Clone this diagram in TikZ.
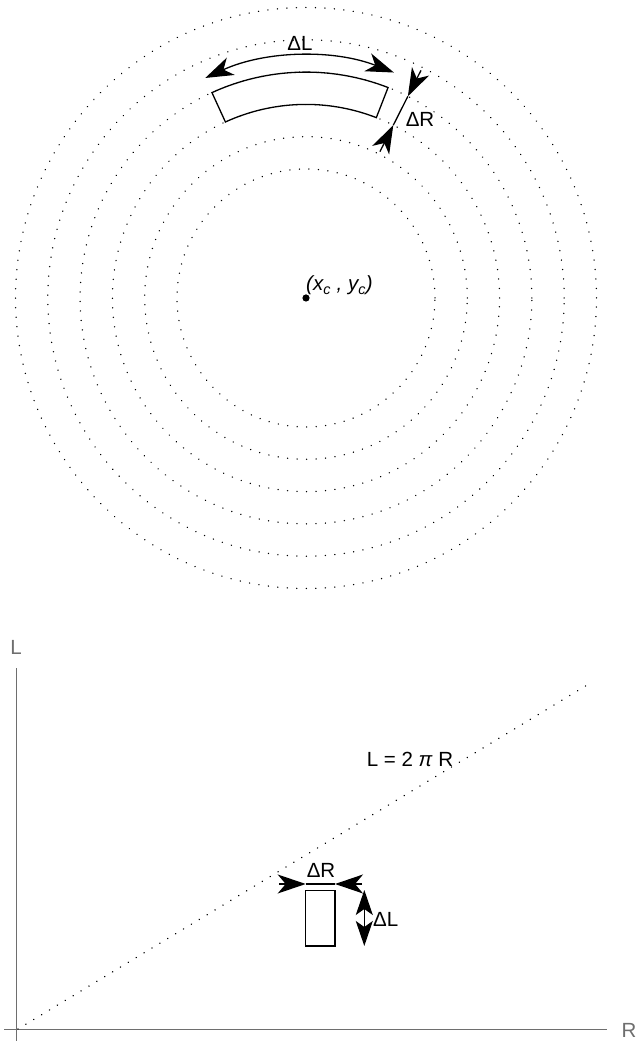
\documentclass[tikz,border=0pt]{standalone}
\usepackage{fontspec}
\setmainfont{Liberation Sans}
\usetikzlibrary{arrows.meta,calc}
\begin{document}
\begin{tikzpicture}[x=1pt,y=1pt,
  lbl/.style={inner sep=0pt,font=\fontsize{20.5}{24}\selectfont},
  axlbl/.style={lbl,text=axgray},
  ring/.style={line width=1.5pt,dash pattern=on 0.01pt off 9.5pt,line cap=round},
  dline/.style={line width=1.6pt,dash pattern=on 0.01pt off 9.2pt,line cap=round},
  thick line/.style={line width=1.3pt},
  head/.style={line width=1.3pt,-{Stealth[length=28pt,width=19pt,inset=8pt]}},
  dhead/.style={line width=1.3pt,{Stealth[length=28pt,width=19pt,inset=8pt]}-{Stealth[length=28pt,width=19pt,inset=8pt]}},
  vhead/.style={line width=1.3pt,{Stealth[length=25pt,width=17pt,inset=6pt]}-{Stealth[length=25pt,width=17pt,inset=6pt]}},
  axis/.style={line width=1pt,draw=axgray}]
\definecolor{axgray}{RGB}{110,110,110}
\useasboundingbox (0,0) rectangle (637,1041);
% ---------- top: concentric circles ----------
\coordinate (c) at (306,743);
\foreach \r in {129,161.3,193.6,225.9,258.2,290.5}
  \draw[ring] (c) circle[radius=\r];
% annular box
\draw[thick line,fill=white] ([shift={(c)}]68.7:193.6) arc[start angle=68.7,end angle=114.6,radius=193.6]
  -- ([shift={(c)}]114.6:225.9) arc[start angle=114.6,end angle=68.7,radius=225.9] -- cycle;
% Delta L arc
\coordinate (La) at ([shift={(c)}]114.6:242);
\draw[dhead] (La) arc[start angle=114.6,end angle=68.7,radius=242];
\node[lbl] (dLtop) at (300,997.7) {ΔL};
% Delta R radial
\coordinate (ro) at ([shift={(c)}]63.2:255);
\coordinate (rout) at ([shift={(c)}]63.2:225.9);
\coordinate (rin) at ([shift={(c)}]63.2:193.6);
\coordinate (ri) at ([shift={(c)}]63.2:164);
\draw[thick line] (rin) -- (rout);
\draw[head] (ro) -- (rout);
\draw[head] (ri) -- (rin);
\node[lbl] (dRtop) at (420,922) {ΔR};
% center
\fill (c) circle[radius=3.6];
\node[lbl,anchor=base west] (cl) at (306,750) {\textit{(x\textsubscript{c} , y\textsubscript{c})}};
% ---------- bottom: plot ----------
\coordinate (O) at (16.7,11);
\coordinate (yt) at (16.7,373);
\coordinate (yb) at (16.7,0);
\coordinate (xl) at (4,11);
\coordinate (xr) at (607,11);
\draw[axis] (yb) -- (yt);
\draw[axis] (xl) -- (xr);
\node[axlbl] (Lax) at (16,394) {L};
\node[axlbl] (Rax) at (629,11) {R};
\coordinate (ds) at (18,12);
\coordinate (de) at (590,357.7);
\draw[dline] (ds) -- (de);
\node[lbl] (eq) at (410,282) {L = 2 \textit{π} R};
% rectangle
\draw[thick line] (305.7,95) rectangle (335,150.3);
\coordinate (hl) at (279,157);
\coordinate (hlt) at (305.7,157);
\coordinate (hrt) at (335,157);
\coordinate (hr) at (362,157);
\draw[thick line] (hlt) -- (hrt);
\draw[head] (hl) -- (hlt);
\draw[head] (hr) -- (hrt);
\node[lbl] (dRb) at (321,171) {ΔR};
\coordinate (vt) at (364.3,151);
\coordinate (vb) at (364.3,95);
\draw[vhead] (vt) -- (vb);
\node[lbl,anchor=west] (dLb) at (373,122) {ΔL};
\end{tikzpicture}
\end{document}
